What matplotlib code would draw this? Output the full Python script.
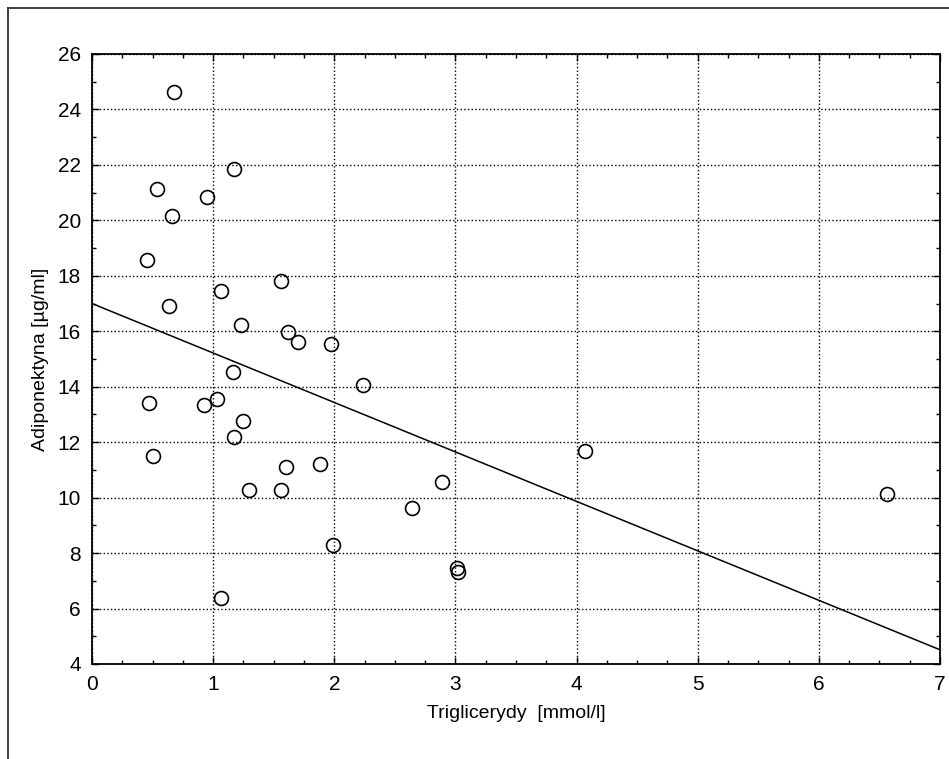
import numpy as np
import matplotlib.pyplot as plt
from matplotlib.lines import Line2D
from matplotlib.ticker import MultipleLocator

# Triglicerydy [mmol/l] vs Adiponektyna [ug/ml]
trig = [0.677, 0.537, 1.173, 0.947, 0.658, 0.457, 1.068, 1.561, 0.639, 1.230,
        1.618, 1.698, 1.974, 1.162, 2.241, 0.471, 0.925, 1.029, 1.244, 1.175,
        0.507, 1.602, 1.883, 4.071, 1.299, 1.561, 2.893, 2.645, 6.560, 1.987,
        3.016, 3.019, 1.065]
adipo = [24.63, 21.13, 21.84, 20.83, 20.16, 18.56, 17.45, 17.81, 16.92, 16.22,
         15.99, 15.63, 15.53, 14.53, 14.07, 13.43, 13.35, 13.56, 12.78, 12.19,
         11.51, 11.10, 11.23, 11.68, 10.28, 10.28, 10.57, 9.62, 10.12, 8.28,
         7.46, 7.33, 6.39]

# regression line
intercept = 17.0
slope = -1.784

plt.rcParams['font.family'] = ['Liberation Sans Narrow', 'Liberation Sans', 'DejaVu Sans']

fig = plt.figure(figsize=(9.49, 7.59), dpi=100)
ax = fig.add_axes([0.0969, 0.1252, 0.8936, 0.8037])

xs = np.array([0, 7])
ax.plot(xs, intercept + slope * xs, color='black', lw=1.1)
ax.plot(trig, adipo, 'o', ms=10, mfc='none', mec='black', mew=1.2)

ax.set_xlim(0, 7)
ax.set_ylim(4, 26)
ax.xaxis.set_major_locator(MultipleLocator(1))
ax.xaxis.set_minor_locator(MultipleLocator(0.25))
ax.yaxis.set_major_locator(MultipleLocator(2))
ax.yaxis.set_minor_locator(MultipleLocator(1))
ax.tick_params(which='both', direction='in', top=True, right=True,
               labelsize=15, width=1)
ax.tick_params(which='major', length=5, pad=8)
ax.tick_params(which='minor', length=3)
ax.grid(True, which='major', ls=':', color='black', lw=1)
for s in ax.spines.values():
    s.set_linewidth(1.3)

ax.set_xlabel('Triglicerydy  [mmol/l]', fontsize=14, labelpad=8)
ax.set_ylabel('Adiponektyna [µg/ml]', fontsize=14, labelpad=6)

# outer frame (cut off at right and bottom)
fig.add_artist(Line2D([8/949, 1], [1 - 8/759, 1 - 8/759], color='#333333', lw=1.3,
                      transform=fig.transFigure))
fig.add_artist(Line2D([8/949, 8/949], [0, 1 - 8/759], color='#333333', lw=1.3,
                      transform=fig.transFigure))

fig.savefig('out.png', dpi=100)
